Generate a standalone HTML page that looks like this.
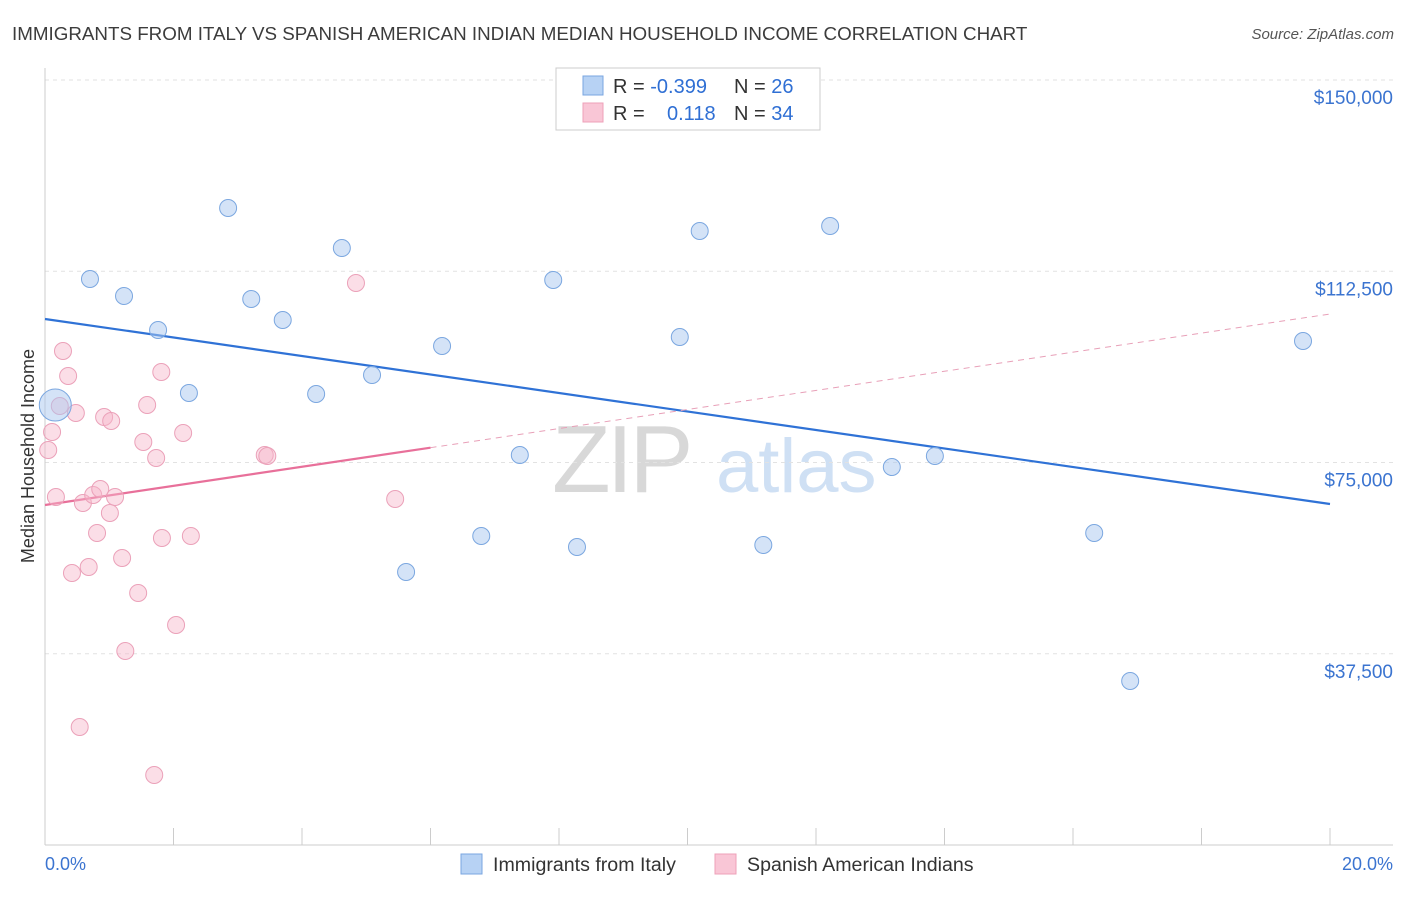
<!DOCTYPE html>
<html><head><meta charset="utf-8"><style>
body{margin:0;background:#fff;font-family:"Liberation Sans",sans-serif;}
svg text{font-family:"Liberation Sans",sans-serif;}
</style></head><body>
<svg id="chart" width="1406" height="892" viewBox="0 0 1406 892" xmlns="http://www.w3.org/2000/svg">
<text x="12" y="40" font-size="18.8" fill="#3c3c3c">IMMIGRANTS FROM ITALY VS SPANISH AMERICAN INDIAN MEDIAN HOUSEHOLD INCOME CORRELATION CHART</text>
<text x="1394" y="39" font-size="15" fill="#555" font-style="italic" text-anchor="end">Source: ZipAtlas.com</text>
<g>
<text x="552" y="492" font-size="96" fill="#d8d8d8" font-family="Liberation Serif" letter-spacing="-4">ZIP</text>
<text x="716" y="492" font-size="76" fill="#cfe0f4">atlas</text>
</g>
<g id="grid"></g>
<g id="axes"></g>
<g id="lines"></g>
<g id="points"></g>
<text transform="translate(34,456) rotate(-90)" font-size="18" fill="#333" text-anchor="middle">Median Household Income</text>
<text x="45" y="870" font-size="18" fill="#3b74d0">0.0%</text>
<text x="1393" y="870" font-size="18" fill="#3b74d0" text-anchor="end">20.0%</text>
<g>
<rect x="556" y="68" width="264" height="62" fill="#fff" stroke="#ccc"/>
<rect x="583" y="76" width="20" height="19" fill="#b7d2f4" stroke="#7aa6e0"/>
<rect x="583" y="103" width="20" height="19" fill="#f9c6d6" stroke="#eea0b8"/>
<text x="613" y="93" font-size="20" fill="#333">R = <tspan fill="#2f6fd4">-0.399</tspan><tspan x="734">N = </tspan><tspan fill="#2f6fd4">26</tspan></text>
<text x="613" y="120" font-size="20" fill="#333">R = <tspan x="667" fill="#2f6fd4">0.118</tspan><tspan x="734">N = </tspan><tspan fill="#2f6fd4">34</tspan></text>
</g>
<g>
<rect x="461" y="854" width="21" height="20" fill="#b7d2f4" stroke="#7aa6e0"/>
<text x="493" y="871" font-size="19.6" fill="#333">Immigrants from Italy</text>
<rect x="715" y="854" width="21" height="20" fill="#f9c6d6" stroke="#eea0b8"/>
<text x="747" y="871" font-size="19.6" fill="#333">Spanish American Indians</text>
</g>
</svg>
<script>
const yTicks=[37500,75000,112500,150000];
const yTickLabels=["$37,500","$75,000","$112,500","$150,000"];
const blueX=[0.70,1.23,2.85,3.21,1.76,2.24,3.70,4.62,4.22,5.09,6.18,7.91,7.39,6.79,8.28,5.62,10.19,9.88,11.18,12.22,13.18,13.85,16.33,16.89,19.58,0.16];
const blueY=[110980,107650,124900,107060,100980,88630,102940,117060,88430,92160,97840,110790,76470,60590,58430,53530,120390,99610,58820,121370,74120,76270,61180,32160,98820,86270];
const pinkX=[0.28,0.36,0.23,0.48,0.11,0.05,0.92,1.03,1.59,1.81,1.53,1.73,2.15,0.17,0.59,0.75,0.86,1.09,1.01,0.81,1.82,2.27,0.42,0.68,1.20,1.45,2.04,1.25,0.54,1.70,3.42,3.46,4.84,5.45];
const pinkY=[96860,91960,86080,84710,80980,77450,83920,83140,86270,92750,79020,75880,80790,68240,67060,68630,69800,68240,65100,61180,60200,60590,53330,54510,56270,49410,43140,38040,23140,13730,76470,76270,110200,67840];
const blueLine=[103140,66860];
const pinkLine=[66670,104120];
const pinkSolidEnd=6;
const NS="http://www.w3.org/2000/svg";
const xs=v=>45+v*64.25;
const ys=v=>845-v/196.08;
function mk(tag,attrs,parent){const e=document.createElementNS(NS,tag);for(const k in attrs)e.setAttribute(k,attrs[k]);document.getElementById(parent).appendChild(e);return e;}
yTicks.forEach((t,i)=>{
 let l=mk('line',{x1:45,x2:1393,y1:ys(t),y2:ys(t),stroke:'#e2e2e2','stroke-dasharray':'4 4'},'grid');
 
 
 let tx=mk('text',{x:1393,y:ys(t)+24,'font-size':19,fill:'#3b74d0','text-anchor':'end'},'grid');
 tx.textContent=yTickLabels[i];
 
 
});
let tg=mk('line',{x1:45,x2:1393,y1:80,y2:80,stroke:'#e2e2e2','stroke-dasharray':'4 4'},'grid');


let ax=mk('line',{x1:45,x2:45,y1:68,y2:845,stroke:'#ccc'},'axes');


let bx=mk('line',{x1:45,x2:1393,y1:845,y2:845,stroke:'#ccc'},'axes');


for(let i=0;i<=20;i+=2){
 let t=mk('line',{x1:xs(i),x2:xs(i),y1:828,y2:845,stroke:'#ccc'},'axes');
 
 
}
const pv=x=>pinkLine[0]+(pinkLine[1]-pinkLine[0])*x/20;
let bl=mk('line',{x1:xs(0),y1:ys(blueLine[0]),x2:xs(20),y2:ys(blueLine[1]),stroke:'#2f72d6','stroke-width':2.2},'lines');


let pl=mk('line',{x1:xs(0),y1:ys(pv(0)),x2:xs(pinkSolidEnd),y2:ys(pv(pinkSolidEnd)),stroke:'#e8709a','stroke-width':2.2},'lines');


let pd=mk('line',{x1:xs(pinkSolidEnd),y1:ys(pv(pinkSolidEnd)),x2:xs(20),y2:ys(pv(20)),stroke:'#e8a0b8','stroke-width':1,'stroke-dasharray':'6 5'},'lines');


pinkX.forEach((x,i)=>{
 let c=mk('circle',{cx:xs(x),cy:ys(pinkY[i]),r:8.5,fill:'rgba(246,182,202,0.45)',stroke:'#eba1b9','stroke-width':1},'points');
 
 
});
blueX.forEach((x,i)=>{
 let c=mk('circle',{cx:xs(x),cy:ys(blueY[i]),r:i==blueX.length-1?16:8.5,fill:'rgba(170,200,240,0.5)',stroke:'#7ba7e0','stroke-width':1},'points');
 
 
});
</script>
</body></html>
